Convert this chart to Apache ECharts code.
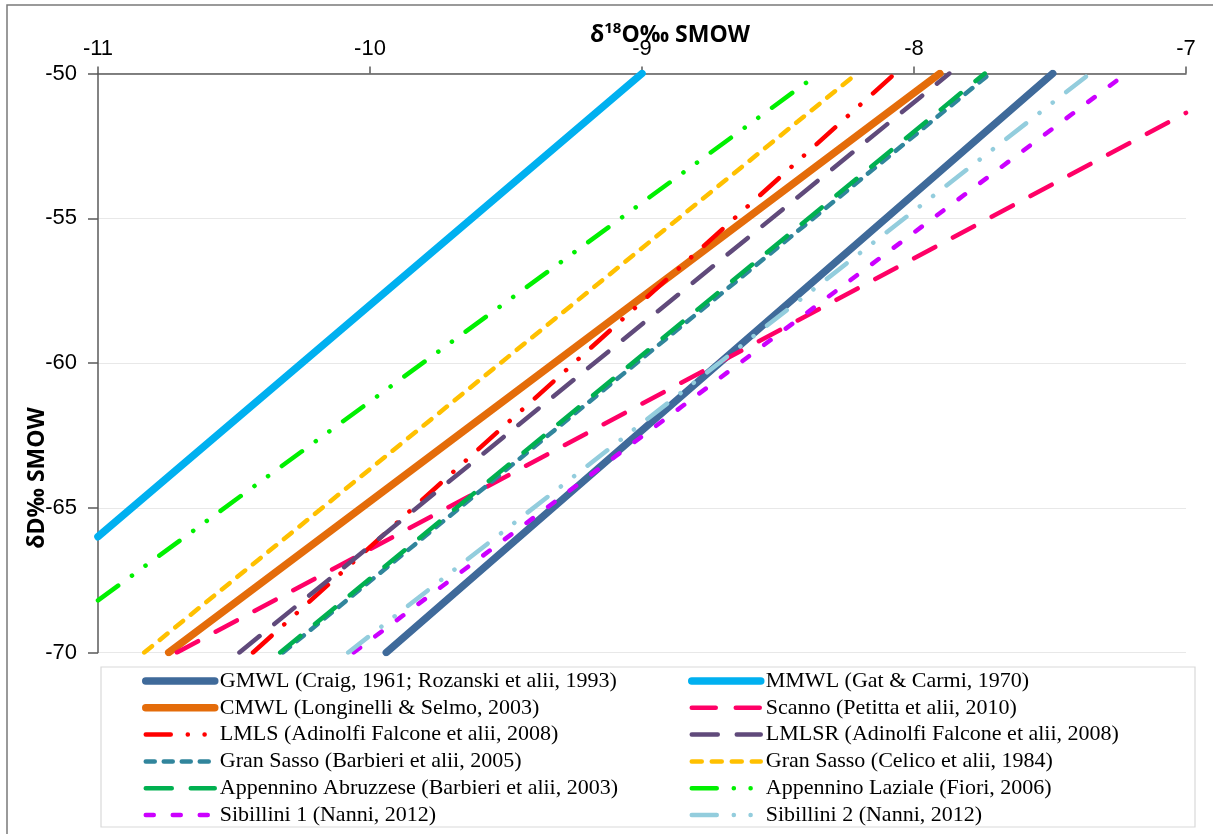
<!DOCTYPE html>
<html>
<head>
<meta charset="utf-8">
<title>Meteoric water lines</title>
<script src="https://cdn.jsdelivr.net/npm/echarts@6/dist/echarts.min.js"></script>
<style>
  html, body { margin: 0; padding: 0; background: #fff; }
  #graphics { width: 1213px; height: 834px; }
</style>
</head>
<body>
<div id="graphics"></div>
<script>
// axis ticks
const xTicks = [-11, -10, -9, -8, -7];
const yTicks = [-70, -65, -60, -55, -50];

// series names, same order as the legend (row by row)
const names = [
    "GMWL (Craig, 1961; Rozanski et alii, 1993)",
    "MMWL (Gat & Carmi, 1970)",
    "CMWL (Longinelli & Selmo, 2003)",
    "Scanno (Petitta et alii, 2010)",
    "LMLS (Adinolfi Falcone et alii, 2008)",
    "LMLSR (Adinolfi Falcone et alii, 2008)",
    "Gran Sasso (Barbieri et alii, 2005)",
    "Gran Sasso (Celico et alii, 1984)",
    "Appennino Abruzzese (Barbieri et alii, 2003)",
    "Appennino Laziale (Fiori, 2006)",
    "Sibillini 1 (Nanni, 2012)",
    "Sibillini 2 (Nanni, 2012)"
];

// end points of each line, [d18O, dD]
const gmwl = [[-9.94, -70], [-7.49, -50]];
const mmwl = [[-11, -66.0], [-9.0, -50]];
const cmwl = [[-10.74, -70], [-7.905, -50]];
const scanno = [[-10.71, -70], [-7.0, -51.36]];
const lmls = [[-10.43, -70], [-8.07, -50]];
const lmlsr = [[-10.48, -70], [-7.87, -50]];
const gsBarbieri = [[-10.32, -70], [-7.72, -50]];
const gsCelico = [[-10.83, -70], [-8.21, -50]];
const appAbruzzese = [[-10.33, -70], [-7.74, -50]];
const appLaziale = [[-11, -68.2], [-8.35, -50]];
const sibillini1 = [[-10.06, -70], [-7.22, -50]];
const sibillini2 = [[-10.08, -70], [-7.353, -50]];

const lineData = [gmwl, mmwl, cmwl, scanno, lmls, lmlsr, gsBarbieri, gsCelico,
    appAbruzzese, appLaziale, sibillini1, sibillini2];

// styles
const colors = ["#3f6a9a", "#00b0f0", "#e46c0a", "#ff0066", "#ff0000", "#604a7b",
    "#31859c", "#ffc000", "#00b050", "#00f000", "#cc00ff", "#93cddd"];
const longDashDotDot = [25, 17, 0.1, 16.7, 0.1, 17];
const dashes = ["solid", "solid", "solid", [24, 20], longDashDotDot, [26, 19],
    [9, 9], [10, 10], [26, 19], longDashDotDot, [8, 19], longDashDotDot];
const widths = [7.5, 7.5, 7.5, 4.5, 4.5, 4.5, 4.5, 4.5, 4.5, 4.5, 4.5, 4.5];

var series = [];
for (let i = 0; i < names.length; i++) {
    series.push({
        name: names[i],
        type: "line",
        data: lineData[i],
        symbol: "none",
        showSymbol: false,
        clip: true,
        lineStyle: {
            color: colors[i],
            width: widths[i],
            type: dashes[i],
            cap: "round"
        },
        itemStyle: { color: colors[i] }
    });
}

function legendBlock(left, idx) {
    return {
        orient: "vertical",
        left: left,
        top: 670,
        padding: 0,
        itemWidth: 69,
        itemHeight: 14,
        itemGap: 4.8,
        selectedMode: false,
        data: idx.map(function (k) { return names[k]; }),
        // hide the little marker that line series put in the middle of the icon
        itemStyle: { opacity: 0 },
        lineStyle: { width: "inherit", type: "inherit", cap: "round" },
        textStyle: {
            fontFamily: "Liberation Serif",
            fontSize: 22,
            lineHeight: 22,
            color: "#000"
        }
    };
}

var myChart = echarts.init(document.getElementById("graphics"));

var option = {
    animation: false,
    backgroundColor: "#fff",
    grid: {
        left: 98,
        right: 27,
        top: 73.5,
        bottom: 181.5,
        containLabel: false,
        outerBoundsMode: "none"
    },
    xAxis: {
        type: "value",
        position: "top",
        min: xTicks[0],
        max: xTicks[xTicks.length - 1],
        interval: 1,
        axisLine: { show: true, onZero: false, lineStyle: { color: "#5a5a5a", width: 1.5 } },
        axisTick: { show: true, inside: false, length: 7, lineStyle: { color: "#5a5a5a", width: 1.5 } },
        axisLabel: {
            margin: 14,
            fontFamily: "Liberation Sans",
            fontSize: 22,
            color: "#000",
            showMinLabel: true,
            showMaxLabel: true
        },
        splitLine: { show: false }
    },
    yAxis: {
        type: "value",
        min: yTicks[0],
        max: yTicks[yTicks.length - 1],
        interval: 5,
        axisLine: { show: true, onZero: false, lineStyle: { color: "#5a5a5a", width: 1.5 } },
        axisTick: { show: true, inside: false, length: 10, lineStyle: { color: "#5a5a5a", width: 1.5 } },
        axisLabel: {
            margin: 21,
            fontFamily: "Liberation Sans",
            fontSize: 22,
            color: "#000",
            showMinLabel: true,
            showMaxLabel: true
        },
        splitLine: { show: true, lineStyle: { color: "#e8e8e8", width: 1.2 } }
    },
    legend: [
        legendBlock(142, [0, 2, 4, 6, 8, 10]),
        legendBlock(688, [1, 3, 5, 7, 9, 11])
    ],
    graphic: [
        {
            // outer frame of the chart area
            type: "rect",
            silent: true,
            z: -10,
            shape: { x: 7, y: 5, width: 1230, height: 860 },
            style: { fill: null, stroke: "#7a7a7a", lineWidth: 1.5 }
        },
        {
            // legend box
            type: "rect",
            silent: true,
            z: -10,
            shape: { x: 101, y: 667, width: 1094, height: 160 },
            style: { fill: null, stroke: "#d9d9d9", lineWidth: 1.2 }
        },
        {
            type: "text",
            silent: true,
            z: 10,
            x: 670,
            y: 35,
            style: {
                text: "{b|δ}{sup|18}{b|O‰ SMOW}",
                align: "center",
                verticalAlign: "middle",
                rich: {
                    b: { fontFamily: "Open Sans", fontWeight: "bold", fontSize: 23, lineHeight: 28, fill: "#000" },
                    sup: { fontFamily: "Open Sans", fontWeight: "bold", fontSize: 15, lineHeight: 28, verticalAlign: "top", fill: "#000" }
                }
            }
        },
        {
            type: "text",
            silent: true,
            z: 10,
            x: 37,
            y: 478,
            rotation: Math.PI / 2,
            style: {
                text: "δD‰ SMOW",
                align: "center",
                verticalAlign: "middle",
                fontFamily: "Open Sans",
                fontWeight: "bold",
                fontSize: 23,
                fill: "#000"
            }
        }
    ],
    series: series
};

myChart.setOption(option);
</script>
</body>
</html>
